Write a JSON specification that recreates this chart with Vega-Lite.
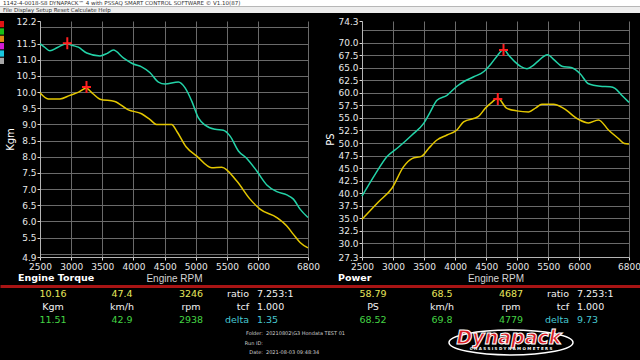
{
  "$schema": "https://vega.github.io/schema/vega-lite/v6.json",
  "background": "#000000",
  "padding": 0,
  "config": {
    "view": {"stroke": null},
    "axis": {"labelColor": "#e8e8e8", "labelFont": "DejaVu Sans", "labelFontSize": 9, "tickColor": "#d8d8d8", "tickSize": 3, "domainColor": "#b4b4b4", "gridColor": "#6a6a6a", "gridWidth": 1, "labelPadding": 1, "titleColor": "#ffffff", "titleFont": "DejaVu Sans", "titleFontWeight": "normal", "titleFontSize": 10, "labelOverlap": false, "labelBound": false, "labelFlush": false},
    "text": {"font": "DejaVu Sans"}
  },
  "datasets": {
    "torque": [
      {"rpm": 2500, "run": "Run A", "kgm": 11.50}, {"rpm": 2580, "run": "Run A", "kgm": 11.38}, {"rpm": 2660, "run": "Run A", "kgm": 11.28}, {"rpm": 2780, "run": "Run A", "kgm": 11.38}, {"rpm": 2930, "run": "Run A", "kgm": 11.50}, {"rpm": 3010, "run": "Run A", "kgm": 11.45}, {"rpm": 3115, "run": "Run A", "kgm": 11.39}, {"rpm": 3250, "run": "Run A", "kgm": 11.21}, {"rpm": 3463, "run": "Run A", "kgm": 11.12}, {"rpm": 3580, "run": "Run A", "kgm": 11.20}, {"rpm": 3677, "run": "Run A", "kgm": 11.30}, {"rpm": 3837, "run": "Run A", "kgm": 11.06}, {"rpm": 3998, "run": "Run A", "kgm": 10.87}, {"rpm": 4130, "run": "Run A", "kgm": 10.78}, {"rpm": 4266, "run": "Run A", "kgm": 10.60}, {"rpm": 4400, "run": "Run A", "kgm": 10.31}, {"rpm": 4506, "run": "Run A", "kgm": 10.25}, {"rpm": 4720, "run": "Run A", "kgm": 10.31}, {"rpm": 4828, "run": "Run A", "kgm": 10.13}, {"rpm": 4935, "run": "Run A", "kgm": 9.72}, {"rpm": 5042, "run": "Run A", "kgm": 9.20}, {"rpm": 5149, "run": "Run A", "kgm": 8.98}, {"rpm": 5310, "run": "Run A", "kgm": 8.85}, {"rpm": 5442, "run": "Run A", "kgm": 8.82}, {"rpm": 5550, "run": "Run A", "kgm": 8.64}, {"rpm": 5683, "run": "Run A", "kgm": 8.18}, {"rpm": 5818, "run": "Run A", "kgm": 7.95}, {"rpm": 5978, "run": "Run A", "kgm": 7.56}, {"rpm": 6139, "run": "Run A", "kgm": 7.13}, {"rpm": 6300, "run": "Run A", "kgm": 6.92}, {"rpm": 6460, "run": "Run A", "kgm": 6.82}, {"rpm": 6566, "run": "Run A", "kgm": 6.69}, {"rpm": 6673, "run": "Run A", "kgm": 6.38}, {"rpm": 6800, "run": "Run A", "kgm": 6.12},
      {"rpm": 2500, "run": "Run B", "kgm": 9.98}, {"rpm": 2633, "run": "Run B", "kgm": 9.79}, {"rpm": 2820, "run": "Run B", "kgm": 9.79}, {"rpm": 2980, "run": "Run B", "kgm": 9.90}, {"rpm": 3120, "run": "Run B", "kgm": 10.00}, {"rpm": 3240, "run": "Run B", "kgm": 10.12}, {"rpm": 3350, "run": "Run B", "kgm": 9.95}, {"rpm": 3463, "run": "Run B", "kgm": 9.78}, {"rpm": 3700, "run": "Run B", "kgm": 9.71}, {"rpm": 3917, "run": "Run B", "kgm": 9.45}, {"rpm": 4130, "run": "Run B", "kgm": 9.33}, {"rpm": 4266, "run": "Run B", "kgm": 9.15}, {"rpm": 4370, "run": "Run B", "kgm": 9.00}, {"rpm": 4612, "run": "Run B", "kgm": 9.00}, {"rpm": 4694, "run": "Run B", "kgm": 8.79}, {"rpm": 4843, "run": "Run B", "kgm": 8.31}, {"rpm": 5015, "run": "Run B", "kgm": 8.02}, {"rpm": 5255, "run": "Run B", "kgm": 7.66}, {"rpm": 5416, "run": "Run B", "kgm": 7.68}, {"rpm": 5657, "run": "Run B", "kgm": 7.25}, {"rpm": 5870, "run": "Run B", "kgm": 6.69}, {"rpm": 6030, "run": "Run B", "kgm": 6.38}, {"rpm": 6300, "run": "Run B", "kgm": 6.12}, {"rpm": 6460, "run": "Run B", "kgm": 5.86}, {"rpm": 6566, "run": "Run B", "kgm": 5.60}, {"rpm": 6673, "run": "Run B", "kgm": 5.35}, {"rpm": 6800, "run": "Run B", "kgm": 5.18}
    ],
    "power": [
      {"rpm": 2500, "run": "Run A", "ps": 39.4}, {"rpm": 2714, "run": "Run A", "ps": 43.8}, {"rpm": 2903, "run": "Run A", "ps": 47.3}, {"rpm": 3090, "run": "Run A", "ps": 49.2}, {"rpm": 3305, "run": "Run A", "ps": 51.6}, {"rpm": 3493, "run": "Run A", "ps": 53.9}, {"rpm": 3600, "run": "Run A", "ps": 56.2}, {"rpm": 3707, "run": "Run A", "ps": 58.5}, {"rpm": 3868, "run": "Run A", "ps": 59.5}, {"rpm": 4029, "run": "Run A", "ps": 61.3}, {"rpm": 4136, "run": "Run A", "ps": 62.2}, {"rpm": 4300, "run": "Run A", "ps": 63.2}, {"rpm": 4458, "run": "Run A", "ps": 64.2}, {"rpm": 4580, "run": "Run A", "ps": 65.8}, {"rpm": 4680, "run": "Run A", "ps": 67.4}, {"rpm": 4779, "run": "Run A", "ps": 68.6}, {"rpm": 4870, "run": "Run A", "ps": 67.4}, {"rpm": 4968, "run": "Run A", "ps": 66.1}, {"rpm": 5060, "run": "Run A", "ps": 65.2}, {"rpm": 5156, "run": "Run A", "ps": 64.8}, {"rpm": 5240, "run": "Run A", "ps": 65.3}, {"rpm": 5317, "run": "Run A", "ps": 66.1}, {"rpm": 5489, "run": "Run A", "ps": 67.6}, {"rpm": 5600, "run": "Run A", "ps": 66.5}, {"rpm": 5719, "run": "Run A", "ps": 65.3}, {"rpm": 5880, "run": "Run A", "ps": 65.0}, {"rpm": 6013, "run": "Run A", "ps": 63.8}, {"rpm": 6148, "run": "Run A", "ps": 61.8}, {"rpm": 6335, "run": "Run A", "ps": 61.3}, {"rpm": 6495, "run": "Run A", "ps": 61.2}, {"rpm": 6575, "run": "Run A", "ps": 60.9}, {"rpm": 6683, "run": "Run A", "ps": 59.5}, {"rpm": 6800, "run": "Run A", "ps": 58.1},
      {"rpm": 2500, "run": "Run B", "ps": 34.8}, {"rpm": 2768, "run": "Run B", "ps": 38.3}, {"rpm": 2982, "run": "Run B", "ps": 41.0}, {"rpm": 3170, "run": "Run B", "ps": 45.3}, {"rpm": 3305, "run": "Run B", "ps": 46.9}, {"rpm": 3465, "run": "Run B", "ps": 47.4}, {"rpm": 3572, "run": "Run B", "ps": 48.9}, {"rpm": 3707, "run": "Run B", "ps": 50.6}, {"rpm": 3868, "run": "Run B", "ps": 51.6}, {"rpm": 4029, "run": "Run B", "ps": 52.6}, {"rpm": 4136, "run": "Run B", "ps": 54.2}, {"rpm": 4377, "run": "Run B", "ps": 55.3}, {"rpm": 4484, "run": "Run B", "ps": 56.9}, {"rpm": 4580, "run": "Run B", "ps": 58.0}, {"rpm": 4687, "run": "Run B", "ps": 58.9}, {"rpm": 4834, "run": "Run B", "ps": 56.9}, {"rpm": 4995, "run": "Run B", "ps": 56.4}, {"rpm": 5183, "run": "Run B", "ps": 56.2}, {"rpm": 5300, "run": "Run B", "ps": 57.0}, {"rpm": 5397, "run": "Run B", "ps": 57.7}, {"rpm": 5585, "run": "Run B", "ps": 57.7}, {"rpm": 5746, "run": "Run B", "ps": 56.9}, {"rpm": 5987, "run": "Run B", "ps": 54.7}, {"rpm": 6148, "run": "Run B", "ps": 54.0}, {"rpm": 6309, "run": "Run B", "ps": 54.6}, {"rpm": 6469, "run": "Run B", "ps": 52.6}, {"rpm": 6630, "run": "Run B", "ps": 50.9}, {"rpm": 6726, "run": "Run B", "ps": 49.9}, {"rpm": 6800, "run": "Run B", "ps": 49.8}
    ],
    "torqueCursor": [{"rpm": 2938, "kgm": 11.51}, {"rpm": 3246, "kgm": 10.16}],
    "powerCursor": [{"rpm": 4687, "ps": 58.79}, {"rpm": 4779, "ps": 68.52}],
    "readouts": [
      {"panel": "Engine Torque", "col": "value", "row": "cursor1", "text": "10.16"},
      {"panel": "Engine Torque", "col": "speed", "row": "cursor1", "text": "47.4"},
      {"panel": "Engine Torque", "col": "rpm", "row": "cursor1", "text": "3246"},
      {"panel": "Engine Torque", "col": "ratio", "row": "cursor1", "label": "ratio", "text": "7.253:1"},
      {"panel": "Engine Torque", "col": "value", "row": "unit", "text": "Kgm"},
      {"panel": "Engine Torque", "col": "speed", "row": "unit", "text": "km/h"},
      {"panel": "Engine Torque", "col": "rpm", "row": "unit", "text": "rpm"},
      {"panel": "Engine Torque", "col": "ratio", "row": "unit", "label": "tcf", "text": "1.000"},
      {"panel": "Engine Torque", "col": "value", "row": "cursor2", "text": "11.51"},
      {"panel": "Engine Torque", "col": "speed", "row": "cursor2", "text": "42.9"},
      {"panel": "Engine Torque", "col": "rpm", "row": "cursor2", "text": "2938"},
      {"panel": "Engine Torque", "col": "ratio", "row": "cursor2", "label": "delta", "text": "1.35"},
      {"panel": "Power", "col": "value", "row": "cursor1", "text": "58.79"},
      {"panel": "Power", "col": "speed", "row": "cursor1", "text": "68.5"},
      {"panel": "Power", "col": "rpm", "row": "cursor1", "text": "4687"},
      {"panel": "Power", "col": "ratio", "row": "cursor1", "label": "ratio", "text": "7.253:1"},
      {"panel": "Power", "col": "value", "row": "unit", "text": "PS"},
      {"panel": "Power", "col": "speed", "row": "unit", "text": "km/h"},
      {"panel": "Power", "col": "rpm", "row": "unit", "text": "rpm"},
      {"panel": "Power", "col": "ratio", "row": "unit", "label": "tcf", "text": "1.000"},
      {"panel": "Power", "col": "value", "row": "cursor2", "text": "68.52"},
      {"panel": "Power", "col": "speed", "row": "cursor2", "text": "69.8"},
      {"panel": "Power", "col": "rpm", "row": "cursor2", "text": "4779"},
      {"panel": "Power", "col": "ratio", "row": "cursor2", "label": "delta", "text": "9.73"}
    ],
    "info": [
      {"panel": "Engine Torque", "col": "ratio", "info": "Folder:", "text": "20210802\\G3 Hondata TEST 01"},
      {"panel": "Engine Torque", "col": "ratio", "info": "Run ID:", "text": ""},
      {"panel": "Engine Torque", "col": "ratio", "info": "Date:", "text": "2021-08-03 09:48:34"}
    ],
    "logo": [
      {"panel": "Power", "col": "rpm", "part": "brand", "text": "Dynapack"},
      {"panel": "Power", "col": "rpm", "part": "sub", "text": "C H A S S I S   D Y N A M O M E T E R S"}
    ]
  },
  "spacing": 3,
  "resolve": {"scale": {"x": "independent", "y": "independent", "color": "independent"}},
  "vconcat": [
    {
      "width": 640,
      "height": 13,
      "data": {"values": [
        {"bar": "title", "side": "L", "text": "1142-4-0018-S8 DYNAPACK\u2122 4 with PSSAQ SMART CONTROL SOFTWARE \u00a9 V1.10(87)"},
        {"bar": "menu", "side": "L", "text": "File   Display   Setup   Reset   Calculate   Help"}
      ]},
      "encoding": {
        "y": {"field": "bar", "type": "nominal", "scale": {"domain": ["title", "menu"], "paddingInner": 0, "paddingOuter": 0}, "axis": null}
      },
      "layer": [
        {"mark": "rect", "encoding": {"color": {"field": "bar", "type": "nominal", "scale": {"domain": ["title", "menu"], "range": ["#ffffff", "#ededed"]}, "legend": null}}},
        {"mark": {"type": "text", "align": "left", "baseline": "middle", "fontSize": 5.5, "color": "#333333"},
         "encoding": {"x": {"field": "side", "type": "nominal", "scale": {"type": "point", "domain": ["L"], "range": [3, 640], "padding": 0, "align": 0}, "axis": null}, "text": {"field": "text"}}}
      ]
    },
    {
      "spacing": 3,
      "resolve": {"scale": {"x": "independent", "y": "independent", "color": "independent"}},
      "vconcat": [
        {
          "spacing": 5,
          "resolve": {"scale": {"x": "independent", "y": "independent", "color": "independent"}},
          "hconcat": [
            {
              "spacing": 1,
              "resolve": {"scale": {"x": "independent", "y": "independent", "color": "independent"}},
              "hconcat": [
                {
                  "width": 4,
                  "height": 43,
                  "data": {"values": [{"swatch": "red"}, {"swatch": "green"}, {"swatch": "orange"}, {"swatch": "magenta"}, {"swatch": "cyan"}, {"swatch": "gray"}]},
                  "mark": "rect",
                  "encoding": {
                    "y": {"field": "swatch", "type": "nominal", "scale": {"domain": ["red", "green", "orange", "magenta", "cyan", "gray"], "paddingInner": 0.15, "paddingOuter": 0}, "axis": null},
                    "color": {"field": "swatch", "type": "nominal", "scale": {"domain": ["red", "green", "orange", "magenta", "cyan", "gray"], "range": ["#e01414", "#18c018", "#e08c14", "#d41cd4", "#18c8e0", "#a8a8a8"]}, "legend": null}
                  }
                },
                {
                  "width": 268,
                  "height": 236,
                  "title": {"text": "Engine Torque", "orient": "bottom", "anchor": "start", "frame": "bounds", "font": "DejaVu Sans", "fontSize": 9.5, "fontWeight": "bold", "color": "#ffffff", "offset": 0, "dx": 12, "dy": -10},
                  "encoding": {
                    "x": {"field": "rpm", "type": "quantitative", "scale": {"domain": [2500, 6800], "nice": false, "zero": false},
                          "axis": {"values": [2500, 3000, 3500, 4000, 4500, 5000, 5500, 6000, 6800], "format": "d", "labelPadding": 2, "title": "Engine RPM", "titleFont": "Liberation Sans", "titleFontSize": 10, "titleColor": "#d4d4d4", "titlePadding": 2}},
                    "y": {"field": "kgm", "type": "quantitative", "scale": {"domain": [4.9, 12.2], "nice": false, "zero": false},
                          "axis": {"values": [4.9, 5, 5.5, 6, 6.5, 7, 7.5, 8, 8.5, 9, 9.5, 10, 10.5, 11, 11.5, 12, 12.2], "title": "Kgm", "titlePadding": 0,
                                   "labelExpr": "datum.value == 5 || datum.value == 12 ? '' : format(datum.value, '.1f')",
                                   "gridOpacity": {"condition": {"test": "datum.value == 12.2 || datum.value == 4.9", "value": 0}, "value": 1},
                                   "tickOpacity": {"condition": {"test": "datum.value == 5 || datum.value == 12", "value": 0}, "value": 1}}}
                  },
                  "layer": [
                    {"data": {"name": "torque"}, "mark": {"type": "line", "strokeWidth": 1.5, "interpolate": "monotone"},
                     "encoding": {"color": {"field": "run", "type": "nominal", "scale": {"domain": ["Run A", "Run B"], "range": ["#23d3a8", "#e4c700"]}, "legend": null}}},
                    {"data": {"name": "torqueCursor"}, "mark": {"type": "point", "shape": "M-0.75,0H0.75M0,-1V1", "size": 144, "filled": false, "stroke": "#ff2020", "strokeWidth": 2, "opacity": 1}}
                  ]
                }
              ]
            },
            {
              "width": 267,
              "height": 236,
              "title": {"text": "Power", "orient": "bottom", "anchor": "start", "frame": "bounds", "font": "DejaVu Sans", "fontSize": 9.5, "fontWeight": "bold", "color": "#ffffff", "offset": 0, "dx": 12, "dy": -10},
              "encoding": {
                "x": {"field": "rpm", "type": "quantitative", "scale": {"domain": [2500, 6800], "nice": false, "zero": false},
                      "axis": {"values": [2500, 3000, 3500, 4000, 4500, 5000, 5500, 6000, 6800], "format": "d", "labelPadding": 2, "title": "Engine RPM", "titleFont": "Liberation Sans", "titleFontSize": 10, "titleColor": "#d4d4d4", "titlePadding": 2}},
                "y": {"field": "ps", "type": "quantitative", "scale": {"domain": [27.3, 74.3], "nice": false, "zero": false},
                      "axis": {"values": [27.3, 30, 32.5, 35, 37.5, 40, 42.5, 45, 47.5, 50, 52.5, 55, 57.5, 60, 62.5, 65, 67.5, 70, 72.5, 74.3], "title": "PS", "titlePadding": 2,
                               "labelExpr": "datum.value == 72.5 ? '' : format(datum.value, '.1f')",
                               "gridOpacity": {"condition": {"test": "datum.value == 74.3 || datum.value == 27.3", "value": 0}, "value": 1},
                               "tickOpacity": {"condition": {"test": "datum.value == 72.5", "value": 0}, "value": 1}}}
              },
              "layer": [
                {"data": {"name": "power"}, "mark": {"type": "line", "strokeWidth": 1.5, "interpolate": "monotone"},
                 "encoding": {"color": {"field": "run", "type": "nominal", "scale": {"domain": ["Run A", "Run B"], "range": ["#23d3a8", "#e4c700"]}, "legend": null}}},
                {"data": {"name": "powerCursor"}, "mark": {"type": "point", "shape": "M-0.75,0H0.75M0,-1V1", "size": 144, "filled": false, "stroke": "#ff2020", "strokeWidth": 2, "opacity": 1}}
              ]
            }
          ]
        },
        {
          "width": 640,
          "height": 75,
          "encoding": {
            "x": {"field": "panel", "type": "nominal", "scale": {"domain": ["Engine Torque", "Power"], "paddingInner": 0, "paddingOuter": 0},
                  "axis": {"orient": "top", "domainColor": "#a81414", "domainWidth": 3, "ticks": false, "labels": false, "title": null, "grid": false}},
            "xOffset": {"field": "col", "type": "nominal", "scale": {"domain": ["value", "speed", "rpm", "ratio"], "range": [53, 260], "paddingInner": 0, "paddingOuter": 0}}
          },
          "layer": [
            {
              "data": {"name": "readouts"},
              "encoding": {
                "y": {"field": "row", "type": "nominal", "scale": {"type": "point", "domain": ["cursor1", "unit", "cursor2"], "range": [8, 34], "padding": 0}, "axis": null}
              },
              "layer": [
                {"transform": [{"filter": "datum.col !== 'ratio'"}],
                 "mark": {"type": "text", "align": "center", "baseline": "middle", "fontSize": 9.5},
                 "encoding": {"text": {"field": "text"},
                              "color": {"field": "row", "type": "nominal", "scale": {"domain": ["cursor1", "unit", "cursor2"], "range": ["#e8e85c", "#f2f2f2", "#44d444"]}, "legend": null}}},
                {"transform": [{"filter": "datum.col === 'ratio'"}],
                 "mark": {"type": "text", "align": "right", "baseline": "middle", "fontSize": 9.5, "dx": -11},
                 "encoding": {"text": {"field": "label"},
                              "color": {"condition": {"test": "datum.row === 'cursor2'", "value": "#46c8d2"}, "value": "#f2f2f2"}}},
                {"transform": [{"filter": "datum.col === 'ratio'"}],
                 "mark": {"type": "text", "align": "left", "baseline": "middle", "fontSize": 9.5, "dx": -3},
                 "encoding": {"text": {"field": "text"},
                              "color": {"condition": {"test": "datum.row === 'cursor2'", "value": "#46c8d2"}, "value": "#f2f2f2"}}}
              ]
            },
            {
              "encoding": {
                "y": {"field": "info", "type": "nominal", "scale": {"type": "point", "domain": ["Folder:", "Run ID:", "Date:"], "range": [47, 66], "padding": 0}, "axis": null}
              },
              "layer": [
                {"data": {"name": "info"}, "mark": {"type": "text", "align": "right", "baseline": "middle", "fontSize": 5, "color": "#cfcfcf", "dx": 3},
                 "encoding": {"text": {"field": "info"}}},
                {"data": {"name": "info"}, "mark": {"type": "text", "align": "left", "baseline": "middle", "fontSize": 5, "color": "#cfcfcf", "dx": 6},
                 "encoding": {"text": {"field": "text"}}},
                {"data": {"name": "logo"}, "transform": [{"filter": "datum.part === 'brand'"}],
                 "mark": {"type": "point", "shape": "M-1,0A1,0.2 0 1,0 1,0A1,0.2 0 1,0 -1,0", "size": 15376, "filled": false, "stroke": "#ffffff", "strokeWidth": 1.5, "opacity": 1, "dy": 1},
                 "encoding": {"y": {"datum": "Run ID:"}}},
                {"data": {"name": "logo"}, "transform": [{"filter": "datum.part === 'brand'"}],
                 "mark": {"type": "text", "align": "center", "baseline": "middle", "fontSize": 19, "fontStyle": "italic", "fontWeight": "bold", "color": "#d81c24", "stroke": "#ffffff", "strokeWidth": 1, "dx": -2, "dy": -5},
                 "encoding": {"y": {"datum": "Run ID:"}, "text": {"field": "text"}}},
                {"data": {"name": "logo"}, "transform": [{"filter": "datum.part === 'sub'"}],
                 "mark": {"type": "text", "align": "center", "baseline": "middle", "fontSize": 4, "fontWeight": "bold", "color": "#ffffff", "dy": -3},
                 "encoding": {"y": {"datum": "Date:"}, "text": {"field": "text"}}}
              ]
            }
          ],
          "resolve": {"scale": {"y": "independent"}}
        }
      ]
    }
  ]
}
